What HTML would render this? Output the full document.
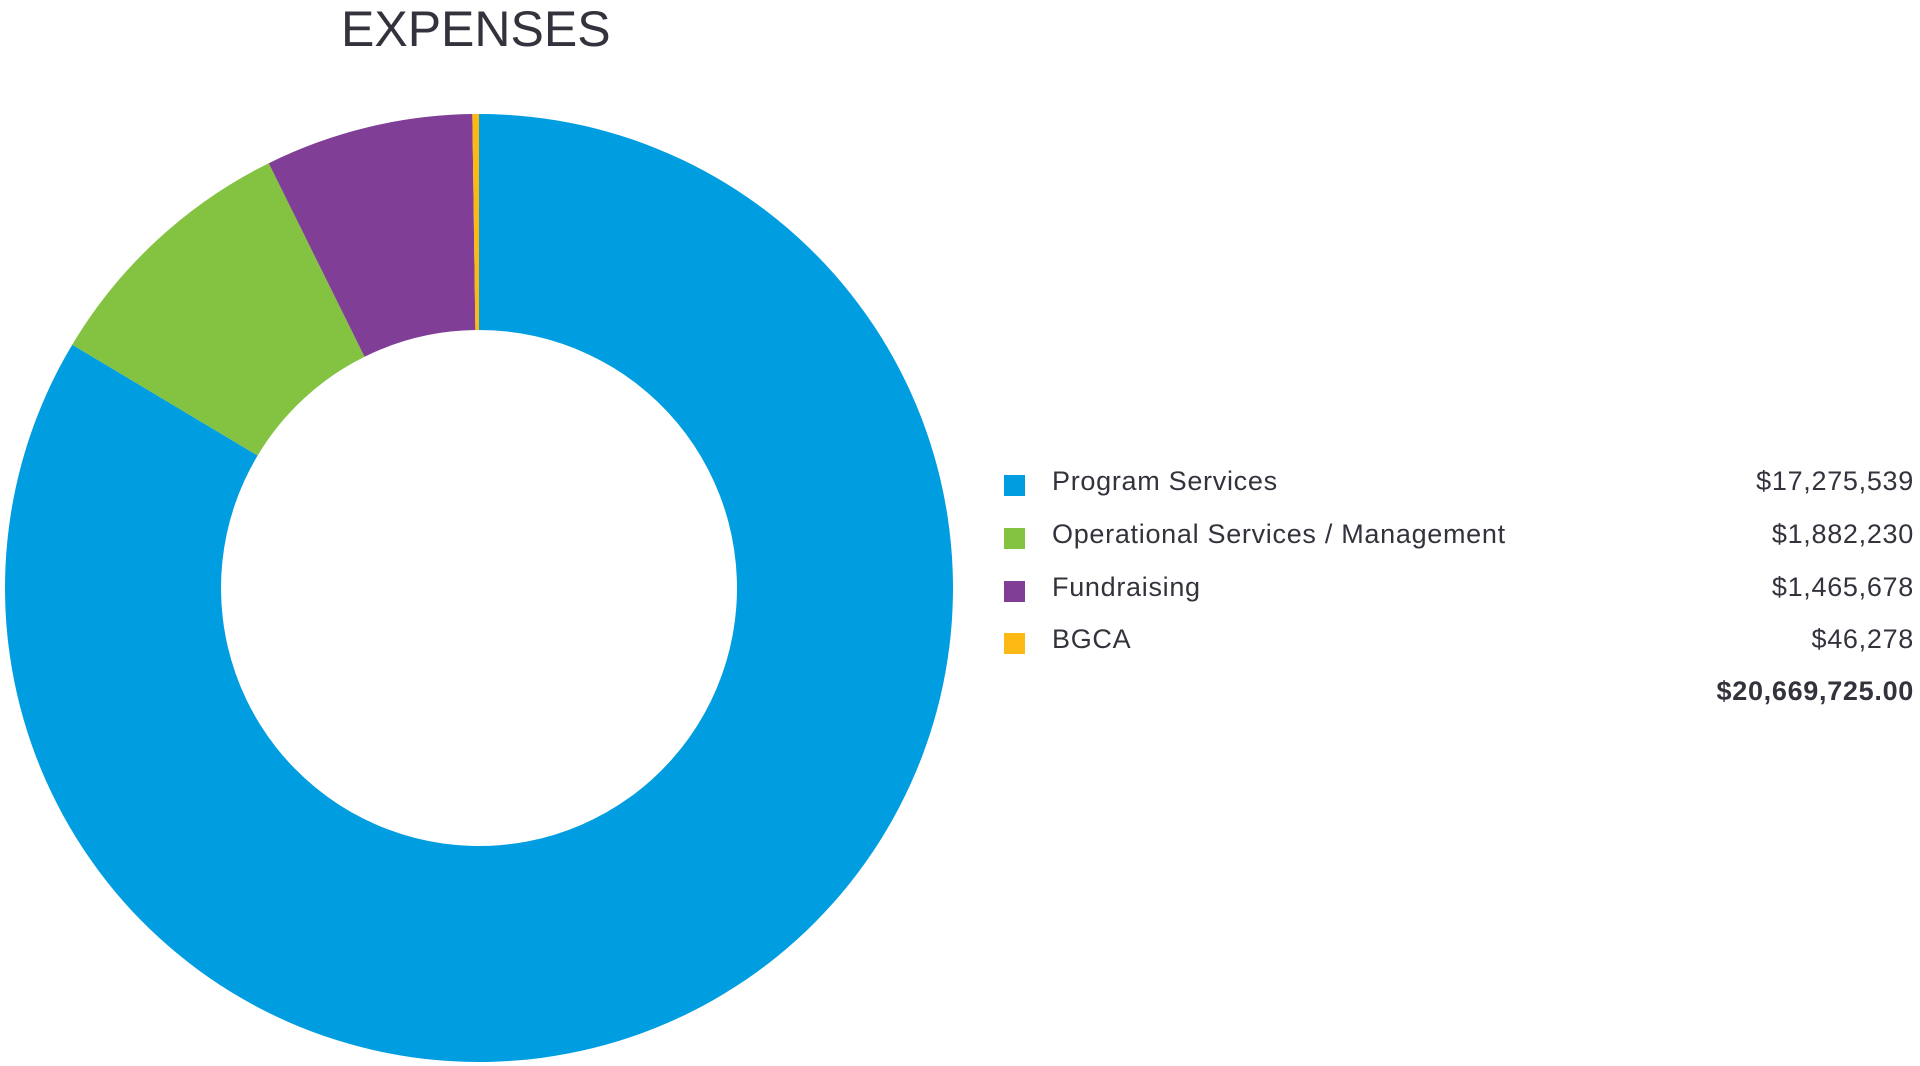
<!DOCTYPE html>
<html><head><meta charset="utf-8"><style>
body{margin:0;width:1920px;height:1066px;background:#fff;overflow:hidden;font-family:"Liberation Sans",sans-serif;color:#33333d;position:relative}
#title{position:absolute;left:341px;top:0px;font-size:50px;color:#33333d}
.row{position:absolute;left:1004px;width:910px;height:40px;font-size:27px;letter-spacing:0.7px}
.sw{position:absolute;left:0;top:9px;width:21px;height:21px}
.lb{position:absolute;left:48px;top:0px}
.val{position:absolute;right:0;top:0px}
</style></head><body>
<div id="title">EXPENSES</div>
<svg id="chart" width="960" height="1066" style="position:absolute;left:0;top:0"></svg>
<div id="legend"></div>
<script>
const categories=["Program Services","Operational Services / Management","Fundraising","BGCA"];
const values=[17275539,1882230,1465678,46278];
const labels=["$17,275,539","$1,882,230","$1,465,678","$46,278"];
const totalLabel="$20,669,725.00";
const colors=["#009ee0","#83c341","#803e97","#fdb913"];
const cx=479,cy=588,R=474,r=258;
const svg=document.getElementById('chart');
const total=values.reduce((a,b)=>a+b,0);
let a0=-Math.PI/2;
values.forEach((v,i)=>{
  const a1=a0+v/total*2*Math.PI;
  const big=(a1-a0)>Math.PI?1:0;
  const p=(rad,a)=>[cx+rad*Math.cos(a),cy+rad*Math.sin(a)];
  const [x0,y0]=p(R,a0),[x1,y1]=p(R,a1),[x2,y2]=p(r,a1),[x3,y3]=p(r,a0);
  const path=document.createElementNS('http://www.w3.org/2000/svg','path');
  path.setAttribute('d',`M${x0},${y0}A${R},${R} 0 ${big} 1 ${x1},${y1}L${x2},${y2}A${r},${r} 0 ${big} 0 ${x3},${y3}Z`);
  path.setAttribute('fill',colors[i]);
  
  
  svg.appendChild(path);
  a0=a1;
});
const lg=document.getElementById('legend');
const ys=[466,519,572,624];
categories.forEach((c,i)=>{
  const row=document.createElement('div');
  row.className='row';row.style.top=ys[i]+'px';
  
  
  row.innerHTML=`<div class="sw" style="background:${colors[i]}"></div><div class="lb">${c}</div><div class="val">${labels[i]}</div>`;
  lg.appendChild(row);
});
const t=document.createElement('div');
t.className='row';t.style.top='676px';


t.innerHTML=`<div class="val" style="font-weight:bold">${totalLabel}</div>`;
lg.appendChild(t);
</script>
</body></html>
